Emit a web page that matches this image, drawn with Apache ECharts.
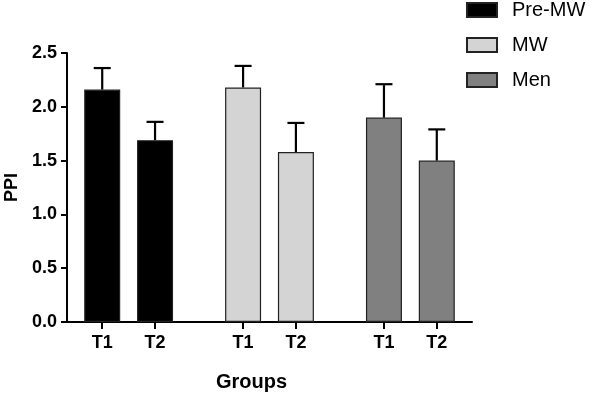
<!DOCTYPE html>
<html>
<head>
<meta charset="utf-8">
<script src="https://cdn.jsdelivr.net/npm/echarts@6/dist/echarts.min.js"></script>
<style>html,body{margin:0;padding:0;background:#fff}#c{width:597px;height:397px}</style>
</head>
<body>
<div id="c"></div>
<script>
var groups = ['Pre-MW', 'MW', 'Men'];
var times = ['T1', 'T2'];
var preMW = [2.16, 1.69];
var mw = [2.18, 1.58];
var men = [1.90, 1.50];
var preMWErr = [0.20, 0.17];
var mwErr = [0.20, 0.27];
var menErr = [0.31, 0.29];
var yTicks = [0, 0.5, 1.0, 1.5, 2.0, 2.5];

var means = [preMW, mw, men];
var errs = [preMWErr, mwErr, menErr];
var colors = ['#000000', '#d4d4d4', '#808080'];
var FONT = "'Liberation Sans', Arial, sans-serif";

// slot layout: groups spaced 8 units apart, time points 3 units apart
function slot(g, t) { return g * 8 + t * 3; }
var positions = [], posLabel = {};
groups.forEach(function (g, gi) {
  times.forEach(function (t, ti) {
    var p = slot(gi, ti); positions.push(p); posLabel[p] = t;
  });
});

var series = [];
groups.forEach(function (g, gi) {
  series.push({
    name: g,
    type: 'bar',
    barWidth: 36,
    barGap: '-100%',
    itemStyle: { color: colors[gi], borderColor: '#222', borderWidth: 1.2 },
    data: means[gi].map(function (v, ti) { return [slot(gi, ti), v]; }),
    z: 2
  });
});
var errData = [];
groups.forEach(function (g, gi) {
  times.forEach(function (t, ti) {
    errData.push([slot(gi, ti), means[gi][ti], errs[gi][ti]]);
  });
});
series.push({
  type: 'custom',
  name: 'err',
  z: 3,
  silent: true,
  data: errData,
  renderItem: function (params, api) {
    var x = api.value(0), m = api.value(1), e = api.value(2);
    var p0 = api.coord([x, m]);
    var p1 = api.coord([x, m + e]);
    var hw = 8.5;
    var st = { stroke: '#000', lineWidth: 2.2 };
    return {
      type: 'group',
      children: [
        { type: 'line', shape: { x1: p0[0], y1: p0[1], x2: p1[0], y2: p1[1] }, style: st },
        { type: 'line', shape: { x1: p1[0] - hw, y1: p1[1], x2: p1[0] + hw, y2: p1[1] }, style: st }
      ]
    };
  }
});

var chart = echarts.init(document.getElementById('c'));
chart.setOption({
  animation: false,
  backgroundColor: '#fff',
  textStyle: { fontFamily: FONT },
  legend: {
    data: groups,
    orient: 'vertical',
    left: 466,
    top: 0,
    padding: 0,
    itemWidth: 30,
    itemHeight: 14,
    itemGap: 15,
    icon: 'rect',
    textStyle: { fontSize: 20, color: '#000', fontFamily: FONT, padding: [0, 0, 0, 10] }
  },
  grid: { left: 67, right: 125, top: 53, bottom: 75, containLabel: false, outerBoundsMode: 'none' },
  xAxis: {
    type: 'value',
    min: -2,
    max: 21,
    name: 'Groups',
    nameLocation: 'middle',
    nameGap: 50,
    nameTextStyle: { fontSize: 20, fontWeight: 'bold', color: '#000', fontFamily: FONT, padding: [0, 36, 0, 0] },
    splitLine: { show: false },
    axisLine: { show: true, onZero: false, lineStyle: { color: '#000', width: 2 } },
    axisTick: { show: true, customValues: positions, length: 7, lineStyle: { color: '#000', width: 2 } },
    axisLabel: {
      customValues: positions,
      formatter: function (v) { return posLabel[v] || ''; },
      fontSize: 18, fontWeight: 'bold', color: '#000', margin: 12, fontFamily: FONT
    }
  },
  yAxis: {
    type: 'value',
    min: 0,
    max: 2.5,
    interval: 0.5,
    name: 'PPI',
    nameLocation: 'middle',
    nameGap: 46,
    nameTextStyle: { fontSize: 18, fontWeight: 'bold', color: '#000', fontFamily: FONT },
    splitLine: { show: false },
    axisLine: { show: true, onZero: false, lineStyle: { color: '#000', width: 2 } },
    axisTick: { show: true, length: 6, lineStyle: { color: '#000', width: 2 } },
    axisLabel: {
      formatter: function (v) { return v.toFixed(1); },
      fontSize: 18, fontWeight: 'bold', color: '#000', margin: 10, fontFamily: FONT
    }
  },
  series: series
});
</script>
</body>
</html>
